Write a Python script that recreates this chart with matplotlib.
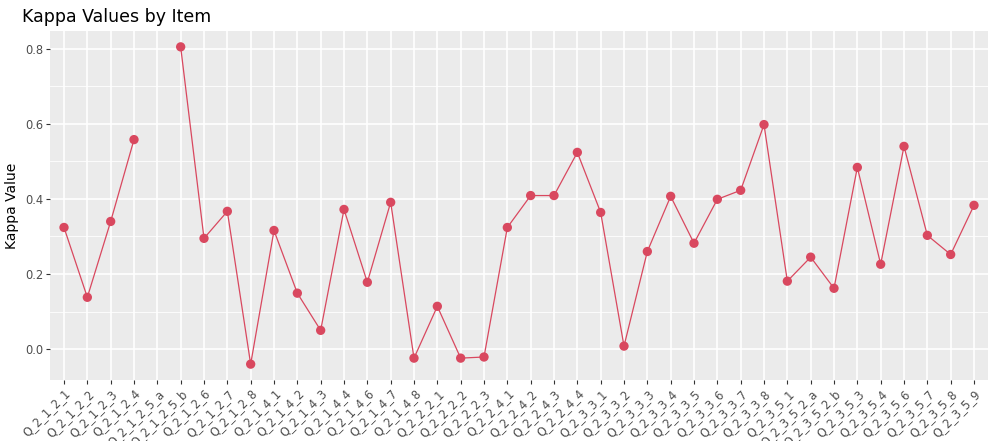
import matplotlib
matplotlib.use("Agg")
import matplotlib.pyplot as plt
import numpy as np

items = ["Q_2_1_2_1", "Q_2_1_2_2", "Q_2_1_2_3", "Q_2_1_2_4", "Q_2_1_2_5_a", "Q_2_1_2_5_b",
         "Q_2_1_2_6", "Q_2_1_2_7", "Q_2_1_2_8", "Q_2_1_4_1", "Q_2_1_4_2", "Q_2_1_4_3",
         "Q_2_1_4_4", "Q_2_1_4_6", "Q_2_1_4_7", "Q_2_1_4_8", "Q_2_2_2_1", "Q_2_2_2_2",
         "Q_2_2_2_3", "Q_2_2_4_1", "Q_2_2_4_2", "Q_2_2_4_3", "Q_2_2_4_4", "Q_2_3_3_1",
         "Q_2_3_3_2", "Q_2_3_3_3", "Q_2_3_3_4", "Q_2_3_3_5", "Q_2_3_3_6", "Q_2_3_3_7",
         "Q_2_3_3_8", "Q_2_3_5_1", "Q_2_3_5_2_a", "Q_2_3_5_2_b", "Q_2_3_5_3", "Q_2_3_5_4",
         "Q_2_3_5_6", "Q_2_3_5_7", "Q_2_3_5_8", "Q_2_3_5_9"]
kappa = [0.324, 0.138, 0.340, 0.558, np.nan, 0.805,
         0.295, 0.367, -0.040, 0.316, 0.149, 0.050,
         0.372, 0.178, 0.391, -0.024, 0.114, -0.024,
         -0.021, 0.324, 0.409, 0.409, 0.524, 0.364,
         0.008, 0.260, 0.407, 0.282, 0.399, 0.423,
         0.598, 0.181, 0.245, 0.162, 0.484, 0.226,
         0.540, 0.303, 0.252, 0.383]
yticks = [0.0, 0.2, 0.4, 0.6, 0.8]

W, H = 989, 441
fig = plt.figure(figsize=(W / 100, H / 100), dpi=100)
ax = fig.add_axes([50 / W, 1 - 380 / H, (988 - 50) / W, (380 - 31) / H])
ax.set_facecolor("#EBEBEB")

x = np.arange(len(items))
vals = np.array(kappa, dtype=float)
col = "#D9485F"
ax.plot(x, vals, color=col, lw=0.9, zorder=3)
ax.scatter(x, vals, s=45, color=col, zorder=4, edgecolors="none")

ax.set_xlim(-0.6, len(items) - 1 + 0.6)
vmin, vmax = np.nanmin(vals), np.nanmax(vals)
rng = vmax - vmin
ax.set_ylim(vmin - 0.05 * rng, vmax + 0.05 * rng)

ax.set_xticks(x)
ax.set_xticklabels(items, rotation=45, ha="right", rotation_mode="anchor",
                   fontsize=8.3, color="#4D4D4D")
ax.set_yticks(yticks)
ax.set_yticklabels([f"{v:.1f}" for v in yticks], fontsize=8.3, color="#4D4D4D")
minor = [(yticks[i] + yticks[i + 1]) / 2 for i in range(len(yticks) - 1)]
ax.set_yticks(minor, minor=True)

ax.grid(True, which="major", color="white", lw=1.2, zorder=0)
ax.grid(True, which="minor", axis="y", color="white", lw=0.6, zorder=0)
ax.set_axisbelow(True)
ax.tick_params(axis="both", which="major", length=3, color="#333333", width=0.8, pad=2)
ax.tick_params(axis="y", which="minor", length=0)
for s in ax.spines.values():
    s.set_visible(False)

ax.set_ylabel("Kappa Value", fontsize=10, color="black", labelpad=4)
fig.text(22 / W, 1 - 17 / H, "Kappa Values by Item", fontsize=12.5, color="black",
         va="center", ha="left")

fig.savefig("out.png", dpi=100)
